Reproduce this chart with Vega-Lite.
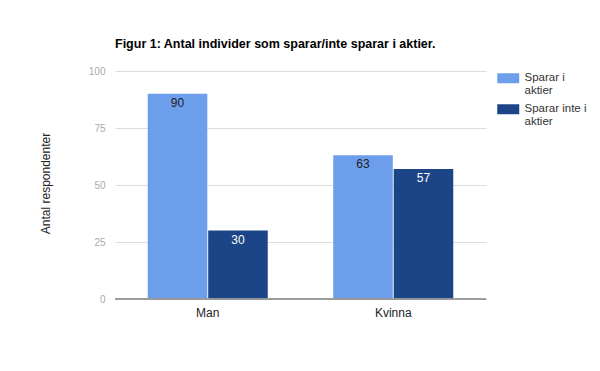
{
  "$schema": "https://vega.github.io/schema/vega-lite/v6.json",
  "width": 371,
  "height": 228,
  "autosize": {"type": "none"},
  "padding": {"left": 115, "top": 71, "right": 114, "bottom": 72},
  "background": "white",
  "title": {
    "text": "Figur 1: Antal individer som sparar/inte sparar i aktier.",
    "anchor": "start",
    "frame": "group",
    "font": "Liberation Sans",
    "fontSize": 12.5,
    "fontWeight": "bold",
    "color": "#000000",
    "offset": 16
  },
  "config": {
    "font": "Liberation Sans",
    "view": {"stroke": null}
  },
  "data": {
    "values": [
      {"kon": "Man", "grupp": "Sparar i aktier", "antal": 90},
      {"kon": "Man", "grupp": "Sparar inte i aktier", "antal": 30},
      {"kon": "Kvinna", "grupp": "Sparar i aktier", "antal": 63},
      {"kon": "Kvinna", "grupp": "Sparar inte i aktier", "antal": 57}
    ]
  },
  "encoding": {
    "x": {
      "field": "kon",
      "type": "nominal",
      "sort": ["Man", "Kvinna"],
      "scale": {"paddingInner": 0.353, "paddingOuter": 0.1765},
      "axis": {
        "title": null,
        "labelAngle": 0,
        "labelFontSize": 12,
        "labelColor": "#222222",
        "labelPadding": 8,
        "ticks": false,
        "domainColor": "#999999",
        "grid": false
      }
    },
    "xOffset": {
      "field": "grupp",
      "type": "nominal",
      "sort": ["Sparar i aktier", "Sparar inte i aktier"],
      "scale": {"paddingInner": 0.015}
    },
    "y": {
      "field": "antal",
      "type": "quantitative",
      "scale": {"domain": [0, 100], "nice": false},
      "axis": {
        "title": "Antal respondenter",
        "titleFontSize": 12,
        "titleFontWeight": "normal",
        "titleColor": "#222222",
        "titleAngle": -90,
        "titleX": -70,
        "titleY": 112,
        "titleAlign": "center",
        "titleBaseline": "middle",
        "values": [0, 25, 50, 75, 100],
        "labelFontSize": 10,
        "labelColor": "#aaaaaa",
        "labelPadding": 10,
        "ticks": false,
        "domain": false,
        "gridColor": "#dddddd"
      }
    }
  },
  "layer": [
    {
      "mark": {"type": "bar"},
      "encoding": {
        "color": {
          "field": "grupp",
          "type": "nominal",
          "sort": ["Sparar i aktier", "Sparar inte i aktier"],
          "scale": {"range": ["#6d9eeb", "#1c4587"]},
          "legend": {
            "title": null,
            "orient": "none",
            "legendX": 377,
            "legendY": -5,
            "padding": 0,
            "labelFontSize": 11.5,
            "labelColor": "#333333",
            "labelLineHeight": 13,
            "labelBaseline": "top",
            "labelOffset": 21,
            "labelExpr": "datum.label == 'Sparar i aktier' ? ['Sparar i', 'aktier'] : ['Sparar inte i', 'aktier']",
            "labelLimit": 200,
            "symbolType": "M-1,3H43V23H-1Z",
            "symbolSize": 1,
            "symbolStrokeWidth": 0,
            "symbolOpacity": 1,
            "rowPadding": -2
          }
        }
      }
    },
    {
      "mark": {"type": "rule", "color": "#999999"},
      "encoding": {"y": {"datum": 0}, "x": null, "xOffset": null}
    },
    {
      "mark": {"type": "text", "baseline": "top", "dy": 4, "fontSize": 12},
      "encoding": {
        "text": {"field": "antal", "type": "quantitative"},
        "color": {
          "condition": {"test": "datum.grupp == 'Sparar inte i aktier'", "value": "#ffffff"},
          "value": "#222222"
        }
      }
    }
  ]
}
